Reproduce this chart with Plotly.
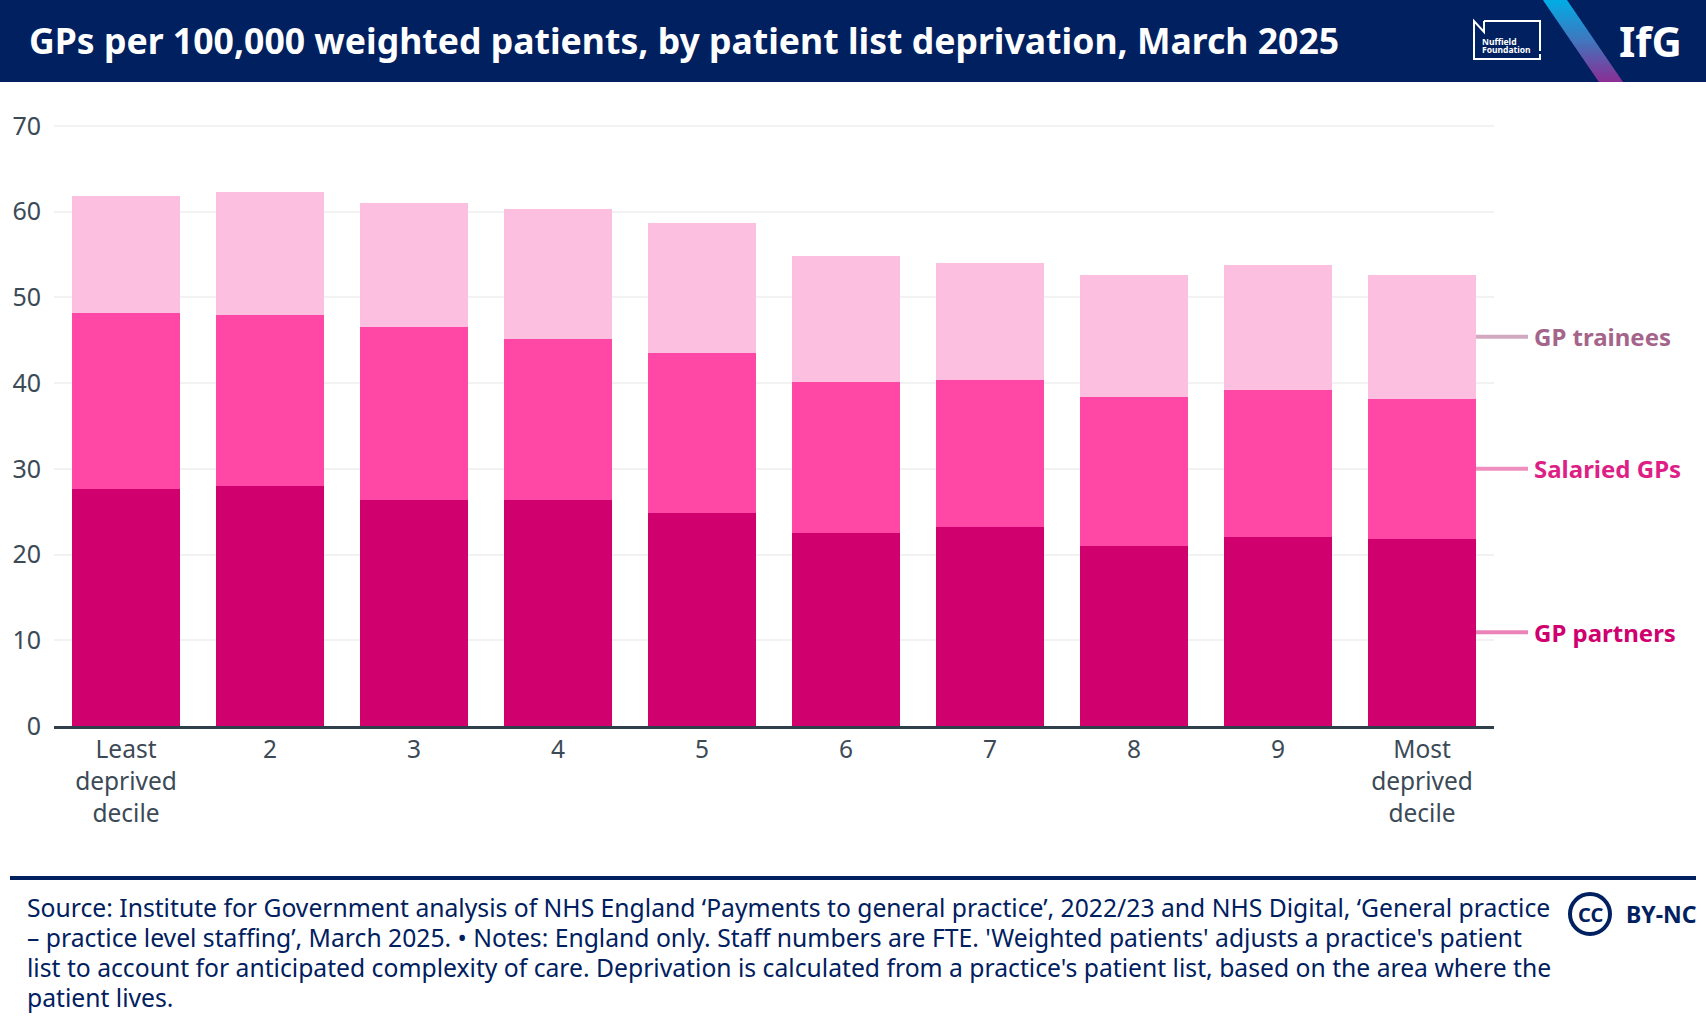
import plotly.graph_objects as go

categories = ["Least<br>deprived<br>decile", "2", "3", "4", "5", "6", "7", "8", "9", "Most<br>deprived<br>decile"]
gp_partners = [27.6, 28.0, 26.4, 26.4, 24.8, 22.55, 23.2, 21.0, 22.0, 21.85]
salaried_gps = [20.55, 19.9, 20.1, 18.8, 18.7, 17.6, 17.2, 17.4, 17.2, 16.35]
gp_trainees = [13.65, 14.4, 14.5, 15.1, 15.2, 14.65, 13.6, 14.2, 14.6, 14.4]

title = "GPs per 100,000 weighted patients, by patient list deprivation, March 2025"
footer_lines = [
    "Source: Institute for Government analysis of NHS England ‘Payments to general practice’, 2022/23 and NHS Digital, ‘General practice",
    "– practice level staffing’, March 2025. • Notes: England only. Staff numbers are FTE. 'Weighted patients' adjusts a practice's patient",
    "list to account for anticipated complexity of care. Deprivation is calculated from a practice's patient list, based on the area where the",
    "patient lives.",
]

W, H = 1706, 1026
NAVY = "#002060"
FONT = "Noto Sans"
TICK = "#3c4a56"
px = lambda v: v / W
py = lambda v: 1 - v / H

fig = go.Figure()
for name, vals, col in [("GP partners", gp_partners, "#d0006f"),
                        ("Salaried GPs", salaried_gps, "#ff48a5"),
                        ("GP trainees", gp_trainees, "#fdbfe0")]:
    fig.add_bar(x=categories, y=vals, name=name, marker=dict(color=col, line=dict(width=0)))

shapes = []
annotations = []

def rect(x0, y0, x1, y1, color):
    shapes.append(dict(type="rect", xref="paper", yref="paper", x0=px(x0), x1=px(x1), y0=py(y0), y1=py(y1),
                       fillcolor=color, line=dict(width=0), layer="below"))

def text(x, y, s, size, color, anchor="left", bold=False, family=FONT):
    annotations.append(dict(xref="paper", yref="paper", x=px(x), y=py(y), text=f"<b>{s}</b>" if bold else s,
                            showarrow=False, xanchor=anchor, yanchor="middle",
                            font=dict(family=family, size=size, color=color), align="left",
                            borderpad=0, bgcolor="rgba(0,0,0,0)"))

# header
rect(0, 0, W, 82, NAVY)
text(28, 40, title, 35.6, "#ffffff", bold=True)

# gradient stripe in the header
def lerp(a, b, t):
    return a + (b - a) * t
top_c, mid_c, bot_c = (0, 174, 230), (66, 118, 190), (139, 46, 148)
steps = 41
for i in range(steps):
    t0, t1 = i / steps, (i + 1.2) / steps
    t = (i + .5) / steps
    a, b = (top_c, mid_c) if t < .5 else (mid_c, bot_c)
    tt = t * 2 if t < .5 else (t - .5) * 2
    c = "rgb(%d,%d,%d)" % tuple(lerp(a[k], b[k], tt) for k in range(3))
    t1 = min(t1, 1)
    xl0, xl1 = lerp(1543, 1599, t0), lerp(1543, 1599, t1)
    y0, y1 = 82 * t0, 82 * t1
    p = f"M{px(xl0)},{py(y0)} L{px(xl0 + 24)},{py(y0)} L{px(xl1 + 24)},{py(y1)} L{px(xl1)},{py(y1)} Z"
    shapes.append(dict(type="path", xref="paper", yref="paper", path=p, fillcolor=c, line=dict(width=0)))

# Nuffield logo outline
pts = [(1484, 21), (1484, 32), (1474, 21), (1474, 59), (1540, 59), (1540, 54)]
pts2 = [(1484, 21), (1540, 21), (1540, 51)]
for pp in (pts, pts2):
    p = "M" + " L".join(f"{px(a)},{py(b)}" for a, b in pp)
    shapes.append(dict(type="path", xref="paper", yref="paper", path=p, line=dict(color="#ffffff", width=2)))
text(1481, 41, "<b>Nuffield</b>", 8.5, "#ffffff")
text(1481, 49.5, "<b>Foundation</b>", 8.5, "#ffffff")
text(1618, 40, "IfG", 42, "#ffffff", bold=True)

# series leaders and labels, positioned from the last bar's segments
last_base = [0, gp_partners[-1], gp_partners[-1] + salaried_gps[-1]]
last_h = [gp_partners[-1], salaried_gps[-1], gp_trainees[-1]]
for (lab, lcol, tcol), b, h in zip([("GP partners", "#ea84b8", "#d0006f"),
                                    ("Salaried GPs", "#ef8fc0", "#dd1f86"),
                                    ("GP trainees", "#d3a9bf", "#a5658a")], last_base, last_h):
    ym = b + h / 2
    shapes.append(dict(type="line", xref="paper", yref="y", x0=px(1476), x1=px(1528), y0=ym, y1=ym,
                       line=dict(color=lcol, width=4)))
    annotations.append(dict(xref="paper", yref="y", x=px(1532), y=ym, text=f"<b>{lab}</b>", showarrow=False,
                            xanchor="left", yanchor="middle", font=dict(family=FONT, size=24, color=tcol)))

# footer
rect(10, 876, 1696, 880, NAVY)
for i, line in enumerate(footer_lines):
    text(26, 907 + i * 30, line, 24.7, NAVY)
shapes.append(dict(type="circle", xref="paper", yref="paper", x0=px(1570), x1=px(1610), y0=py(934), y1=py(894),
                   line=dict(color=NAVY, width=4)))
text(1590, 914, "CC", 20, NAVY, anchor="center", bold=True)
text(1625, 914, "BY-NC", 23, NAVY, bold=True)

fig.update_layout(
    width=W, height=H, autosize=False,
    margin=dict(l=0, r=0, t=0, b=0, pad=0, autoexpand=False),
    paper_bgcolor="#ffffff", plot_bgcolor="#ffffff",
    barmode="stack", bargap=0.25, showlegend=False,
    font=dict(family=FONT, color=TICK, size=24),
    shapes=shapes, annotations=annotations,
    xaxis=dict(domain=[px(54), px(1494)], type="category", tickfont=dict(size=24.5, color=TICK),
               showgrid=False, showline=True, linecolor="#2f3f4c", linewidth=2.5, ticks="", ticklabelstandoff=0,
               fixedrange=True, automargin=False),
    yaxis=dict(domain=[py(726), py(124.29)], range=[0, 70.2], tickvals=list(range(0, 71, 10)),
               tickfont=dict(size=25, color=TICK), gridcolor="#f2f2f2", gridwidth=2, zeroline=False,
               showline=False, ticks="", ticklabelstandoff=12, fixedrange=True, automargin=False),
)

fig.write_html("out.html", config={"displayModeBar": False},
               post_script="document.body.style.margin='0';document.body.style.overflow='hidden';")
